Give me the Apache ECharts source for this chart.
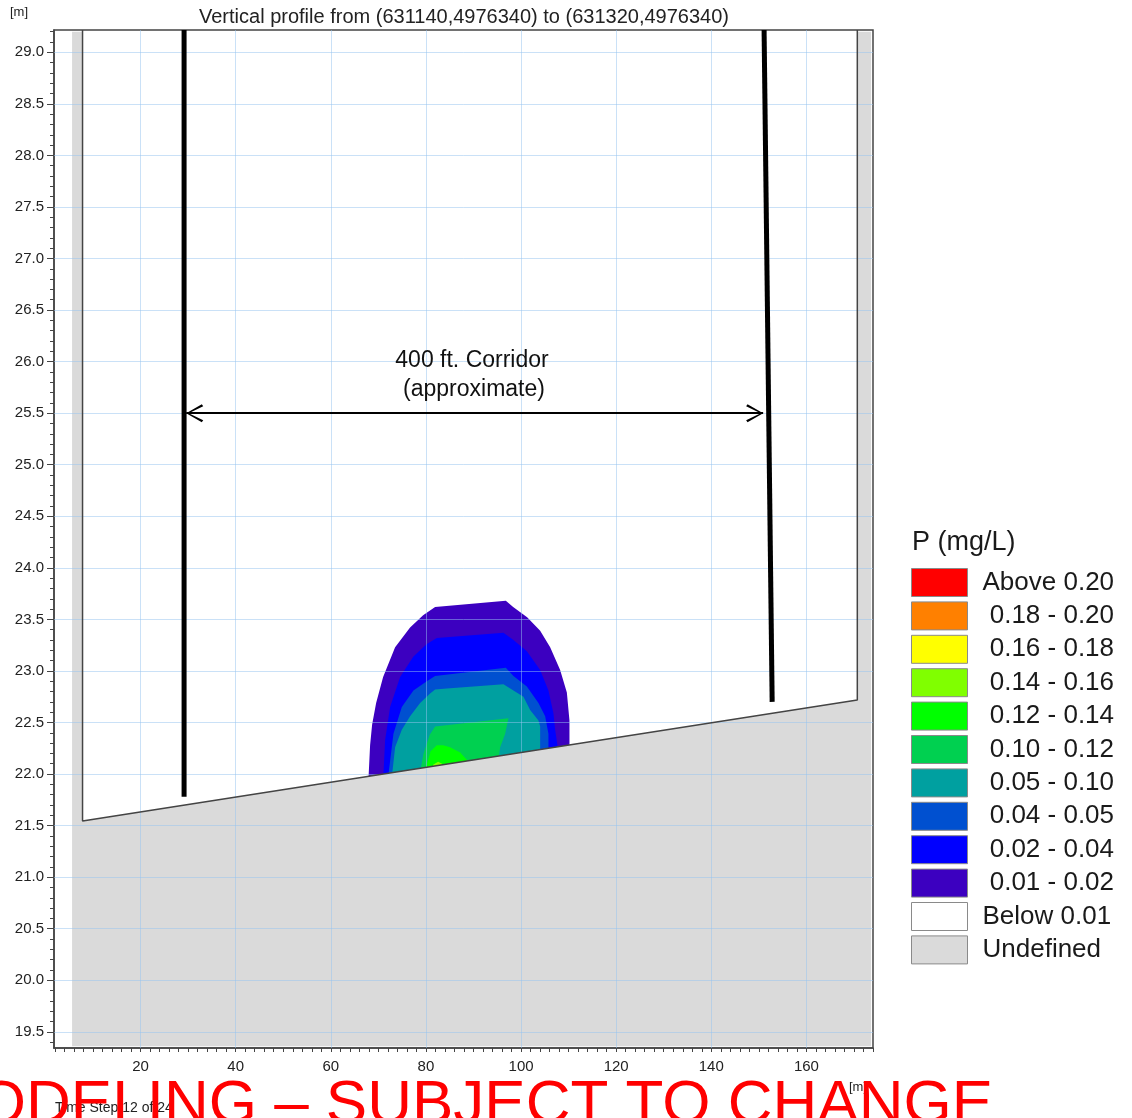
<!DOCTYPE html>
<html>
<head>
<meta charset="utf-8">
<script src="https://cdn.jsdelivr.net/npm/echarts@6/dist/echarts.min.js"></script>
<style>
  html, body { margin: 0; padding: 0; background: #fff; }
  #main { width: 1132px; height: 1118px; }
</style>
</head>
<body>
<div id="main"></div>
<script>
// axis ranges and tick labels [m]
var xRange = [1.8, 174];
var yRange = [19.343, 29.216];
var xLabels = [20, 40, 60, 80, 100, 120, 140, 160];
var yLabels = [19.5, 20.0, 20.5, 21.0, 21.5, 22.0, 22.5, 23.0, 23.5, 24.0, 24.5, 25.0, 25.5, 26.0, 26.5, 27.0, 27.5, 28.0, 28.5, 29.0];

// legend classes (P mg/L) and colours
var classNames = ['Above 0.20', ' 0.18 - 0.20', ' 0.16 - 0.18', ' 0.14 - 0.16', ' 0.12 - 0.14', ' 0.10 - 0.12',
  ' 0.05 - 0.10', ' 0.04 - 0.05', ' 0.02 - 0.04', ' 0.01 - 0.02', 'Below 0.01', 'Undefined'];
var classColors = ['#ff0000', '#ff8000', '#ffff00', '#80ff00', '#00ff00', '#00d050',
  '#00a0a0', '#0050d0', '#0000ff', '#3c00c0', '#ffffff', '#dadada'];

// model domain: bed line and undefined cells
var bedLine = [[7.8, 29.216], [7.8, 21.544], [170.7, 22.718], [170.7, 29.216]];
var undefinedArea = [[5.6, 29.2], [7.8, 29.2], [7.8, 21.544], [170.7, 22.718], [170.7, 29.2],
  [173.6, 29.2], [173.6, 19.36], [5.6, 19.36]];

// corridor
var leftEdge = [[29.15, 29.216], [29.15, 21.78]];
var rightEdge = [[151.1, 29.216], [152.8, 22.70]];
var corridorArrow = [[29.6, 25.5], [150.9, 25.5]];

// plume contours (outline of area above each class limit)
var plume001 = [[67.5, 21.9], [67.95, 21.98], [68.26, 22.28], [68.69, 22.48], [69.53, 22.69], [71.0, 22.94],
  [73.52, 23.23], [76.67, 23.42], [79.41, 23.54], [81.93, 23.62], [96.8, 23.68], [98.34, 23.62],
  [101.28, 23.52], [104.02, 23.39], [106.12, 23.23], [108.22, 23.01], [109.63, 22.79], [110.18, 22.52],
  [110.18, 22.14], [110.3, 22.0]];
var plume002 = [[70.9, 21.9], [71.06, 21.99], [71.42, 22.33], [72.47, 22.65], [74.57, 22.94], [77.37, 23.14],
  [80.19, 23.26], [82.29, 23.32], [96.3, 23.37], [98.4, 23.30], [101.22, 23.19], [104.02, 23.01],
  [105.76, 22.81], [106.81, 22.59], [107.17, 22.43], [107.8, 22.23], [107.9, 22.1]];
var plume004 = [[72.0, 21.9], [72.11, 21.99], [73.17, 22.39], [74.93, 22.65], [77.37, 22.81], [80.19, 22.90],
  [81.93, 22.95], [96.8, 23.03], [98.4, 22.95], [101.22, 22.85], [103.66, 22.69], [105.07, 22.56],
  [105.76, 22.39], [105.76, 22.20], [105.8, 22.1]];
var plume005 = [[72.7, 21.9], [72.83, 21.97], [73.52, 22.26], [74.93, 22.43], [76.67, 22.56], [78.78, 22.69],
  [80.88, 22.78], [81.93, 22.82], [84.39, 22.83], [96.3, 22.87], [98.4, 22.81], [100.5, 22.75],
  [101.91, 22.62], [103.66, 22.52], [104.02, 22.46], [104.02, 22.2], [104.1, 22.1]];
var plume010 = [[78.6, 21.95], [78.78, 22.02], [79.5, 22.2], [80.8, 22.38], [81.93, 22.46], [97.35, 22.54],
  [96.66, 22.39], [95.61, 22.26], [95.25, 22.14], [95.2, 22.05]];
var plume012 = [[79.8, 21.95], [79.9, 22.05], [81.0, 22.22], [82.29, 22.28], [83.62, 22.28], [85.08, 22.26],
  [87.19, 22.21], [89.0, 22.12], [89.8, 22.0]];
var plume014 = [[81.0, 21.95], [81.51, 22.09], [82.56, 22.12], [83.4, 22.1], [83.8, 22.0]];

var font = 'Liberation Sans, Arial, sans-serif';
var chart = echarts.init(document.getElementById('main'));

var xTicks = [];
for (var i = 2; i <= 174; i += 2) xTicks.push(i);
var yTicks = [];
for (var j = 194; j <= 292; j++) yTicks.push(j / 10);

function area (name, color, pts, z) {
  return {
    name: name,
    type: 'custom',
    z: z,
    silent: true,
    clip: true,
    itemStyle: { color: color },
    data: pts.length ? [pts[0]] : [],
    renderItem: function (params, api) {
      return {
        type: 'polygon',
        shape: { points: pts.map(function (p) { return api.coord(p); }) },
        style: { fill: color }
      };
    }
  };
}

var plumes = [[], [], [], plume014, plume012, plume010, plume005, plume004, plume002, plume001, [], undefinedArea];
var series = [];
for (var k = classNames.length - 1; k >= 0; k--) {
  var z = k === 11 ? 4 : 3 + (11 - k) * 0.01;
  series.push(area(classNames[k], classColors[k], plumes[k], z));
}

// grid lines on top of the fill
series.push({
  type: 'line', data: [], z: 5, silent: true,
  markLine: {
    silent: true, symbol: 'none', animation: false,
    label: { show: false },
    lineStyle: { color: 'rgba(150,195,240,0.5)', width: 1, type: 'solid' },
    emphasis: { disabled: true },
    data: xLabels.map(function (v) { return { xAxis: v }; })
      .concat(yLabels.map(function (v) { return { yAxis: v }; }))
  }
});

series.push({
  type: 'line', data: bedLine, z: 6, silent: true, symbol: 'none',
  lineStyle: { color: '#444', width: 1.5 }
});
series.push({
  type: 'line', data: leftEdge, z: 7, silent: true, symbol: 'none',
  lineStyle: { color: '#000', width: 5 }
});
series.push({
  type: 'line', data: rightEdge, z: 7, silent: true, symbol: 'none',
  lineStyle: { color: '#000', width: 5 }
});
// open arrow head, tip at the centre of its box
var chevron = 'path://M50,-96 L50.1,-96 L50.1,-95.9 Z M50,0 L100,88 L89,96 L50,14 L11,96 L0,88 Z';
series.push({
  type: 'line', data: [], z: 7, silent: true,
  markLine: {
    silent: true, animation: false,
    symbol: [chevron, chevron], symbolSize: [18, 34],
    label: { show: false },
    lineStyle: { color: '#000', width: 2, type: 'solid' },
    itemStyle: { color: '#000' },
    emphasis: { disabled: true },
    data: [[{ coord: corridorArrow[0] }, { coord: corridorArrow[1] }]]
  }
});

var option = {
  animation: false,
  backgroundColor: '#fff',
  grid: { left: 54, right: 259, top: 30, bottom: 70, show: true, borderColor: '#444', borderWidth: 1.5 },
  xAxis: {
    type: 'value', min: xRange[0], max: xRange[1],
    axisLine: { show: true, lineStyle: { color: '#444', width: 1.5 } },
    axisTick: { show: true, length: 4, customValues: xTicks, lineStyle: { color: '#444' } },
    axisLabel: { customValues: xLabels, margin: 11, fontSize: 15, color: '#222', fontFamily: font },
    splitLine: { show: false }
  },
  yAxis: [{
    type: 'value', min: yRange[0], max: yRange[1],
    axisLine: { show: true, lineStyle: { color: '#444', width: 1.5 } },
    axisTick: { show: true, length: 4, customValues: yTicks, lineStyle: { color: '#444' } },
    axisLabel: {
      customValues: yLabels, margin: 10, fontSize: 15, color: '#222', fontFamily: font,
      formatter: function (v) { return v.toFixed(1); }
    },
    splitLine: { show: false }
  }, {
    type: 'value', min: yRange[0], max: yRange[1], position: 'left',
    axisLine: { show: false },
    axisTick: { show: true, length: 7, customValues: yLabels, lineStyle: { color: '#444' } },
    axisLabel: { show: false },
    splitLine: { show: false }
  }],
  legend: {
    data: classNames,
    orient: 'vertical',
    left: 911, top: 568,
    padding: 0,
    icon: 'rect',
    itemWidth: 56, itemHeight: 28, itemGap: 4.4,
    selectedMode: false,
    itemStyle: { borderColor: '#8a8a8a', borderWidth: 1 },
    textStyle: { fontSize: 26, color: '#1a1a1a', fontFamily: font, padding: [0, 0, 0, 10], lineHeight: 28 }
  },
  graphic: [
    { type: 'text', x: 10, y: 12, style: { text: '[m]', font: '13px ' + font, fill: '#222', align: 'left', verticalAlign: 'middle' } },
    { type: 'text', x: 464, y: 17, style: { text: 'Vertical profile from (631140,4976340) to (631320,4976340)', font: '20px ' + font, fill: '#222', align: 'center', verticalAlign: 'middle' } },
    { type: 'text', x: 849, y: 1087, style: { text: '[m]', font: '13px ' + font, fill: '#222', align: 'left', verticalAlign: 'middle' } },
    { type: 'text', x: 472, y: 361, z: 20, style: { text: '400 ft. Corridor', font: '23px ' + font, fill: '#111', align: 'center', verticalAlign: 'middle' } },
    { type: 'text', x: 474, y: 390, z: 20, style: { text: '(approximate)', font: '23px ' + font, fill: '#111', align: 'center', verticalAlign: 'middle' } },
    { type: 'text', x: 912, y: 543, style: { text: 'P (mg/L)', font: '27px ' + font, fill: '#1a1a1a', align: 'left', verticalAlign: 'middle' } },
    { type: 'text', x: 55, y: 1108, style: { text: 'Time Step 12 of 24', font: '14px ' + font, fill: '#222', align: 'left', verticalAlign: 'middle' } },
    { type: 'text', x: 993, y: 1106, z: 100, style: { text: 'MODELING \u2013 SUBJECT TO CHANGE', font: '62px ' + font, fill: '#ff0000', align: 'right', verticalAlign: 'middle' } }
  ],
  series: series
};

chart.setOption(option);
</script>
</body>
</html>
